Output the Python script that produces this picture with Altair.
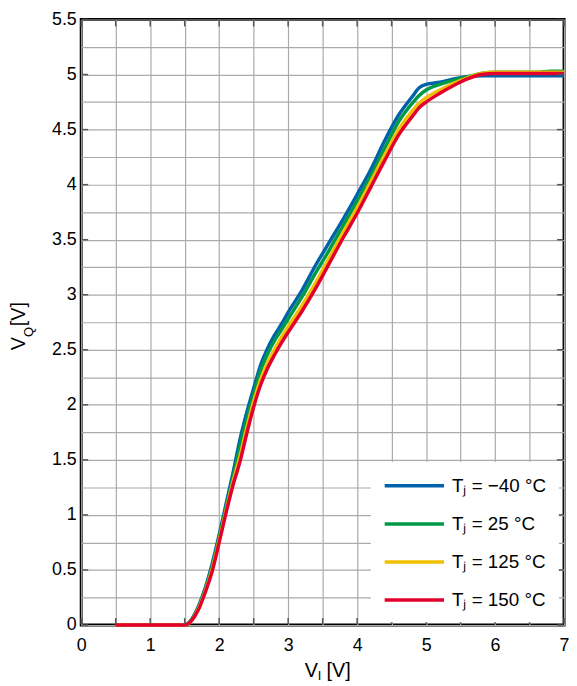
import altair as alt
import pandas as pd

# ---- data ----
vi = [0.5, 1.0, 1.5,
      1.6, 1.7, 1.8, 1.9, 2.0, 2.1, 2.2, 2.3, 2.4, 2.5, 2.6, 2.7, 2.8, 2.9,
      3.0, 3.2, 3.4, 3.6, 3.8, 4.0, 4.2, 4.4, 4.6, 4.8,
      4.9,
      5.0, 5.2, 5.4, 5.6, 5.8, 6.0,
      6.6, 6.8, 7.0]

vq_m40 = [0, 0, 0,
          0.05, 0.17, 0.34, 0.56, 0.82, 1.10, 1.38, 1.68, 1.93, 2.15, 2.36, 2.51, 2.63, 2.73,
          2.84, 3.04, 3.27, 3.48, 3.69, 3.91, 4.14, 4.40, 4.63, 4.80,
          4.88,
          4.91, 4.93, 4.96, 4.98, 4.99, 4.99,
          4.99, 4.99, 4.99]
vq_25 = [0, 0, 0,
         0.05, 0.16, 0.33, 0.54, 0.80, 1.07, 1.34, 1.62, 1.87, 2.10, 2.31, 2.46, 2.58, 2.68,
         2.78, 2.98, 3.20, 3.41, 3.63, 3.85, 4.08, 4.33, 4.57, 4.74,
         4.81,
         4.86, 4.91, 4.95, 4.98, 5.01, 5.02,
         5.02, 5.03, 5.03]
vq_125 = [0, 0, 0,
          0.04, 0.15, 0.31, 0.51, 0.77, 1.04, 1.30, 1.53, 1.79, 2.03, 2.23, 2.38, 2.50, 2.61,
          2.71, 2.90, 3.11, 3.34, 3.57, 3.79, 4.03, 4.27, 4.50, 4.67,
          4.74,
          4.79, 4.86, 4.92, 4.97, 5.01, 5.02,
          5.02, 5.02, 5.02]
vq_150 = [0, 0, 0,
          0.04, 0.14, 0.30, 0.49, 0.75, 1.02, 1.27, 1.48, 1.74, 1.98, 2.18, 2.33, 2.45, 2.56,
          2.66, 2.85, 3.06, 3.29, 3.52, 3.74, 3.98, 4.22, 4.45, 4.62,
          4.70,
          4.75, 4.83, 4.90, 4.96, 5.00, 5.01,
          5.01, 5.01, 5.01]

labels = ["T\u2c7c = \u221240 \u00b0C", "T\u2c7c = 25 \u00b0C",
          "T\u2c7c = 125 \u00b0C", "T\u2c7c = 150 \u00b0C"]
colors = ["#0062a9", "#009a47", "#f0c000", "#e3002c"]
series_values = [vq_m40, vq_25, vq_125, vq_150]

x_ticks = [i * 0.5 for i in range(15)]
y_ticks = [i * 0.25 for i in range(23)]
y_major = [i * 0.5 for i in range(12)]

FONT = "Liberation Sans"
W, H = 488, 612

color_scale = alt.Scale(domain=labels, range=colors)
legend = alt.Legend(
    title=None, orient="none", legendX=292.7, legendY=447.3,
    fillColor="white", padding=12,
    symbolType="M-1,0H5", symbolSize=400, symbolStrokeWidth=3.5,
    symbolOpacity=1,
    labelFontSize=19, labelFont=FONT, labelColor="black",
    labelOffset=46, rowPadding=16.5,
)

xs = alt.Scale(domain=[0, 7], nice=False, zero=False)
ys = alt.Scale(domain=[0, 5.5], nice=False, zero=False)

x_axis = alt.Axis(values=x_ticks, title=None, grid=True, domain=False,
                  ticks=False, labelFlush=False, labelPadding=12,
                  labelFontSize=18, labelFont=FONT, labelColor="black",
                  labelExpr="datum.value % 1 == 0 ? format(datum.value, '~g') : ''")
y_axis = alt.Axis(values=y_ticks, title=None, grid=True, domain=False,
                  ticks=False, labelFlush=False, labelPadding=5,
                  labelFontSize=18, labelFont=FONT, labelColor="black",
                  labelExpr="datum.value % 0.5 == 0 ? format(datum.value, '~g') : ''")
x_enc = alt.X("vi:Q", scale=xs, axis=x_axis)
y_enc = alt.Y("vq:Q", scale=ys, axis=y_axis)

layers = []
for lab, vals in zip(labels, series_values):
    df = pd.DataFrame({"vi": vi, "vq": vals, "series": lab})
    layers.append(
        alt.Chart(df).mark_line(strokeWidth=3.5, interpolate="monotone").encode(
            x=x_enc, y=y_enc,
            color=alt.Color("series:N", scale=color_scale, legend=legend),
        )
    )

# inward tick stubs
tick_col = "#555555"
xt = pd.DataFrame({"vi": x_ticks})
yt = pd.DataFrame({"vq": y_major})
layers += [
    alt.Chart(xt).mark_rule(color=tick_col, strokeWidth=1.5).encode(
        x=x_enc, y=alt.value(H - 1), y2=alt.value(H - 7)),
    alt.Chart(xt).mark_rule(color=tick_col, strokeWidth=1.5).encode(
        x=x_enc, y=alt.value(1), y2=alt.value(7)),
    alt.Chart(yt).mark_rule(color=tick_col, strokeWidth=1.5).encode(
        y=y_enc, x=alt.value(1), x2=alt.value(7)),
    alt.Chart(yt).mark_rule(color=tick_col, strokeWidth=1.5).encode(
        y=y_enc, x=alt.value(W - 1), x2=alt.value(W - 7)),
]


def txt(s, x, y, size, angle=0):
    return alt.Chart(pd.DataFrame({"t": [s]})).mark_text(
        font=FONT, fontSize=size, align="left", baseline="alphabetic",
        angle=angle, color="black"
    ).encode(text="t:N", x=alt.value(x), y=alt.value(y))


# axis titles with subscripts
layers += [
    txt("V", 226.0, 664.5, 20),
    txt("I", 239.0, 667.5, 13),
    txt("[V]", 248.0, 664.5, 20),
    txt("V", -57.0, 334.3, 20, angle=270),
    txt("Q", -49.0, 321.0, 13, angle=270),
    txt("[V]", -57.0, 310.0, 20, angle=270),
]

chart = alt.layer(*layers).properties(
    width=W, height=H,
    autosize=alt.AutoSizeParams(type="none"),
    padding={"left": 74, "top": 8, "right": 5, "bottom": 58},
).configure_view(
    stroke="black", strokeWidth=3
).configure_axis(
    gridColor="#aaaaaa", gridWidth=1.2, gridOpacity=1
)

chart.save("out.html", embed_options={"renderer": "svg", "actions": False})
